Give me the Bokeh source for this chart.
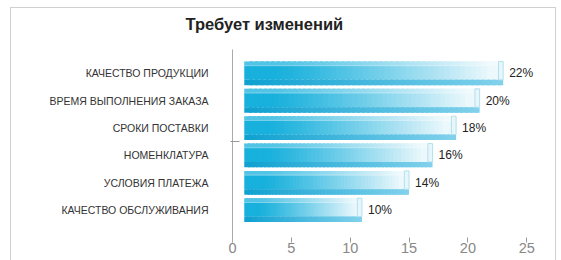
import numpy as np
from bokeh.plotting import figure
from bokeh.models import Range1d, FixedTicker
from bokeh.core.properties import value
from bokeh.embed import file_html
from bokeh.resources import INLINE

# ---- data ----
title = "Требует изменений"
categories = ["КАЧЕСТВО ПРОДУКЦИИ", "ВРЕМЯ ВЫПОЛНЕНИЯ ЗАКАЗА", "СРОКИ ПОСТАВКИ",
              "НОМЕНКЛАТУРА", "УСЛОВИЯ ПЛАТЕЖА", "КАЧЕСТВО ОБСЛУЖИВАНИЯ"]
values = [22, 20, 18, 16, 14, 10]
x_ticks = [0, 5, 10, 15, 20, 25]

# ---- style ----
depth = 1.0      # 3D depth offset of the bars
bar_h = 0.87
n = len(categories)
ypos = [n - i for i in range(n)]

p = figure(width=561, height=260, x_range=Range1d(0, 26), y_range=Range1d(-0.182, 6.873),
           output_backend="svg", toolbar_location=None,
           min_border_left=232, min_border_right=23, min_border_top=48, min_border_bottom=18)


def hexc(c):
    return "#%02x%02x%02x" % tuple(int(round(x)) for x in c)


# gradient body of each bar (upper face) and bottom face
K = 48
face0, face1 = np.array([24, 176, 220]), np.array([236, 248, 252])
bot0, bot1 = np.array([14, 160, 208]), np.array([130, 210, 236])
L, R, T, B, C = [], [], [], [], []
L2, R2, T2, B2, C2 = [], [], [], [], []
for v, y in zip(values, ypos):
    edges = np.linspace(depth, v + depth, K + 1)
    step = edges[1] - edges[0]
    for k in range(K):
        f = (k + 0.5) / K
        t = float(np.clip((f - 0.12) / 0.83, 0, 1)) ** 1.15
        r = min(edges[k + 1] + step * 0.6, v + depth)
        L.append(edges[k]); R.append(r)
        T.append(y + bar_h / 2); B.append(y - bar_h / 2 + 0.2)
        C.append(hexc(face0 + (face1 - face0) * t))
        L2.append(edges[k]); R2.append(r)
        T2.append(y - bar_h / 2 + 0.2); B2.append(y - bar_h / 2)
        C2.append(hexc(bot0 + (bot1 - bot0) * f))
p.quad(left=L, right=R, top=T, bottom=B, fill_color=C, line_color=None)
p.quad(left=L2, right=R2, top=T2, bottom=B2, fill_color=C2, line_color=None)

lefts = [depth] * n
rights = [v + depth for v in values]
caps = [v + depth - 0.4 for v in values]
# top light band
p.quad(left=lefts, right=caps, top=[y + bar_h / 2 for y in ypos], bottom=[y + 0.28 for y in ypos],
       fill_color="white", fill_alpha=0.25, line_color=None)
p.segment(x0=lefts, x1=caps, y0=[y + 0.28 for y in ypos], y1=[y + 0.28 for y in ypos],
          line_color="white", line_alpha=0.35, line_width=1)
# right end cap
p.quad(left=caps, right=rights, top=[y + bar_h / 2 for y in ypos], bottom=[y - bar_h / 2 + 0.2 for y in ypos],
       fill_color="#e6f6fb", line_color="#b4e0ee", line_width=1)

# value labels
p.text(x=rights, y=ypos, text=[f"{v}%" for v in values], x_offset=6,
       text_baseline="middle", text_align="left", text_font=value("Liberation Sans"),
       text_font_size="12px", text_color="#222222")

# axes
p.xaxis.ticker = FixedTicker(ticks=x_ticks)
p.xaxis.axis_line_color = None
p.xaxis.major_tick_in = 5
p.xaxis.major_tick_out = 0
p.xaxis.major_tick_line_color = "#999999"
p.xaxis.minor_tick_line_color = None
p.xaxis.major_label_text_font = "Liberation Sans"
p.xaxis.major_label_text_font_size = "14.5px"
p.xaxis.major_label_text_color = "#888888"
p.xaxis.major_label_standoff = 0

p.yaxis.ticker = FixedTicker(ticks=ypos, minor_ticks=[3.5])
p.yaxis.major_label_overrides = {float(y): c for y, c in zip(ypos, categories)}
p.yaxis.major_tick_in = 0
p.yaxis.major_tick_out = 0
p.yaxis.minor_tick_in = 7
p.yaxis.minor_tick_out = 2
p.yaxis.minor_tick_line_color = "#999999"
p.yaxis.axis_line_color = "#aaaaaa"
p.yaxis.major_label_standoff = 22
p.yaxis.major_label_text_font = "Liberation Sans"
p.yaxis.major_label_text_font_size = "10.5px"
p.yaxis.major_label_text_color = "#333333"

p.grid.visible = False
p.outline_line_color = None
p.border_fill_color = None
p.background_fill_color = None

p.title.text = title
p.title.align = "left"
p.title.offset = -47
p.title.text_font = "Liberation Sans"
p.title.text_font_size = "16.5px"
p.title.text_font_style = "bold"
p.title.text_color = "#222222"
p.title.vertical_align = "top"
p.title.standoff = 29

line = "linear-gradient(#d0d0d0,#d0d0d0)"
p.styles = {"background": f"{line} 10px 7px / 1px 100% no-repeat, {line} 10px 7px / 546px 1px no-repeat, {line} 555px 7px / 1px 100% no-repeat, white"}

open("out.html", "w").write(file_html(p, INLINE))
